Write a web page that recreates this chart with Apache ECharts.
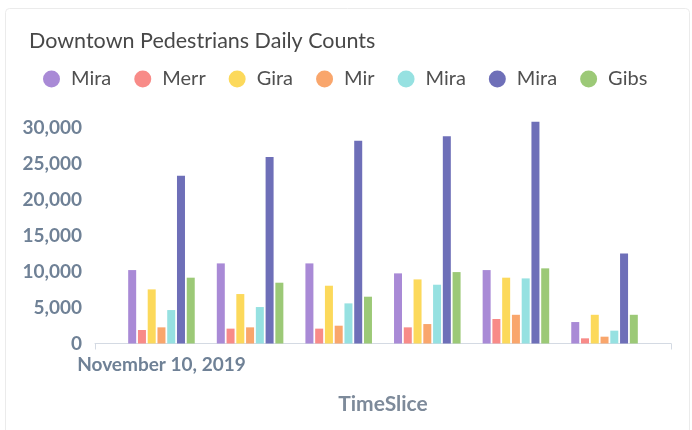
<!DOCTYPE html>
<html>
<head>
<meta charset="utf-8">
<script src="https://cdn.jsdelivr.net/npm/echarts@6/dist/echarts.min.js"></script>
<style>
  html, body { margin: 0; padding: 0; background: #fff; }
  #main { width: 692px; height: 430px; }
</style>
</head>
<body>
<div id="main"></div>
<script>
  // dates on the x axis (only the first one gets a label in the original)
  var dates = ['November 10, 2019', 'November 11, 2019', 'November 12, 2019',
               'November 13, 2019', 'November 14, 2019', 'November 15, 2019'];
  var seriesNames = ['Mirabella St', 'Merrion Sq', 'Girard Ave', 'Miramar Rd',
                     'Mirador Pl', 'Miranda St', 'Gibson Ave'];
  var colors = ['#a98ad6', '#f88b88', '#fcd95b', '#f9a66c', '#96e1e1', '#6e6fb8', '#9cc977'];

  var mirabella = [10230, 11160, 11160, 9770, 10230, 2990];
  var merrion   = [1880, 2070, 2070, 2250, 3410, 720];
  var girard    = [7540, 6890, 8050, 8930, 9170, 4000];
  var miramar   = [2250, 2250, 2480, 2710, 4000, 950];
  var mirador   = [4660, 5080, 5590, 8190, 9070, 1790];
  var miranda   = [23360, 26000, 28240, 28890, 30880, 12550];
  var gibson    = [9170, 8470, 6520, 9950, 10470, 4000];
  var allValues = [mirabella, merrion, girard, miramar, mirador, miranda, gibson];

  var yTicks = [0, 5000, 10000, 15000, 20000, 25000, 30000];

  var chart = echarts.init(document.getElementById('main'));

  var series = allValues.map(function (vals, k) {
    return {
      name: seriesNames[k],
      type: 'bar',
      barWidth: 8,
      barGap: '22%',
      itemStyle: { color: colors[k] },
      data: vals.map(function (v, i) { return [i, v]; })
    };
  });

  chart.setOption({
    animation: false,
    color: colors,
    graphic: [{
      type: 'rect',
      z: -10,
      shape: { x: 5.5, y: 8.5, width: 684, height: 440, r: 4 },
      style: { fill: 'none', stroke: '#ebebeb', lineWidth: 1 }
    }],
    title: {
      text: 'Downtown Pedestrians Daily Counts',
      left: 24,
      top: 25,
      textStyle: { fontFamily: 'Lato', fontSize: 21.5, fontWeight: 'normal', color: '#484848' }
    },
    legend: {
      left: 38,
      top: 64,
      width: 660,
      icon: 'circle',
      itemWidth: 17,
      itemHeight: 17,
      itemGap: 23,
      data: seriesNames,
      textStyle: {
        fontFamily: 'Lato', fontSize: 20, color: '#505050',
        width: 45, overflow: 'truncate', ellipsis: '',
        padding: [0, 0, 0, 6]
      }
    },
    grid: { left: 95, right: 21, top: 121, bottom: 86.5 },
    xAxis: {
      type: 'value',
      min: -0.75,
      max: 5.75,
      name: 'TimeSlice',
      nameLocation: 'middle',
      nameGap: 50,
      nameTextStyle: { fontFamily: 'Lato', fontSize: 21, fontWeight: 'bold', color: '#7d8a9a' },
      splitLine: { show: false },
      axisLine: { show: true, lineStyle: { color: '#d4dae3' } },
      axisTick: { show: true, customValues: [-0.75, 5.75], length: 6, lineStyle: { color: '#d4dae3' } },
      axisLabel: {
        customValues: [0],
        margin: 12,
        fontFamily: 'Lato', fontSize: 19, fontWeight: 'bold', color: '#6f8196',
        formatter: function (v) { return dates[Math.round(v)]; }
      }
    },
    yAxis: {
      type: 'value',
      min: 0,
      max: 31000,
      axisLine: { show: false },
      axisTick: { show: false },
      splitLine: { show: false },
      axisLabel: {
        customValues: yTicks,
        margin: 13,
        fontFamily: 'Lato', fontSize: 19, fontWeight: 'bold', color: '#6f8196',
        formatter: function (v) { return v.toLocaleString('en-US'); }
      }
    },
    series: series
  });
</script>
</body>
</html>
